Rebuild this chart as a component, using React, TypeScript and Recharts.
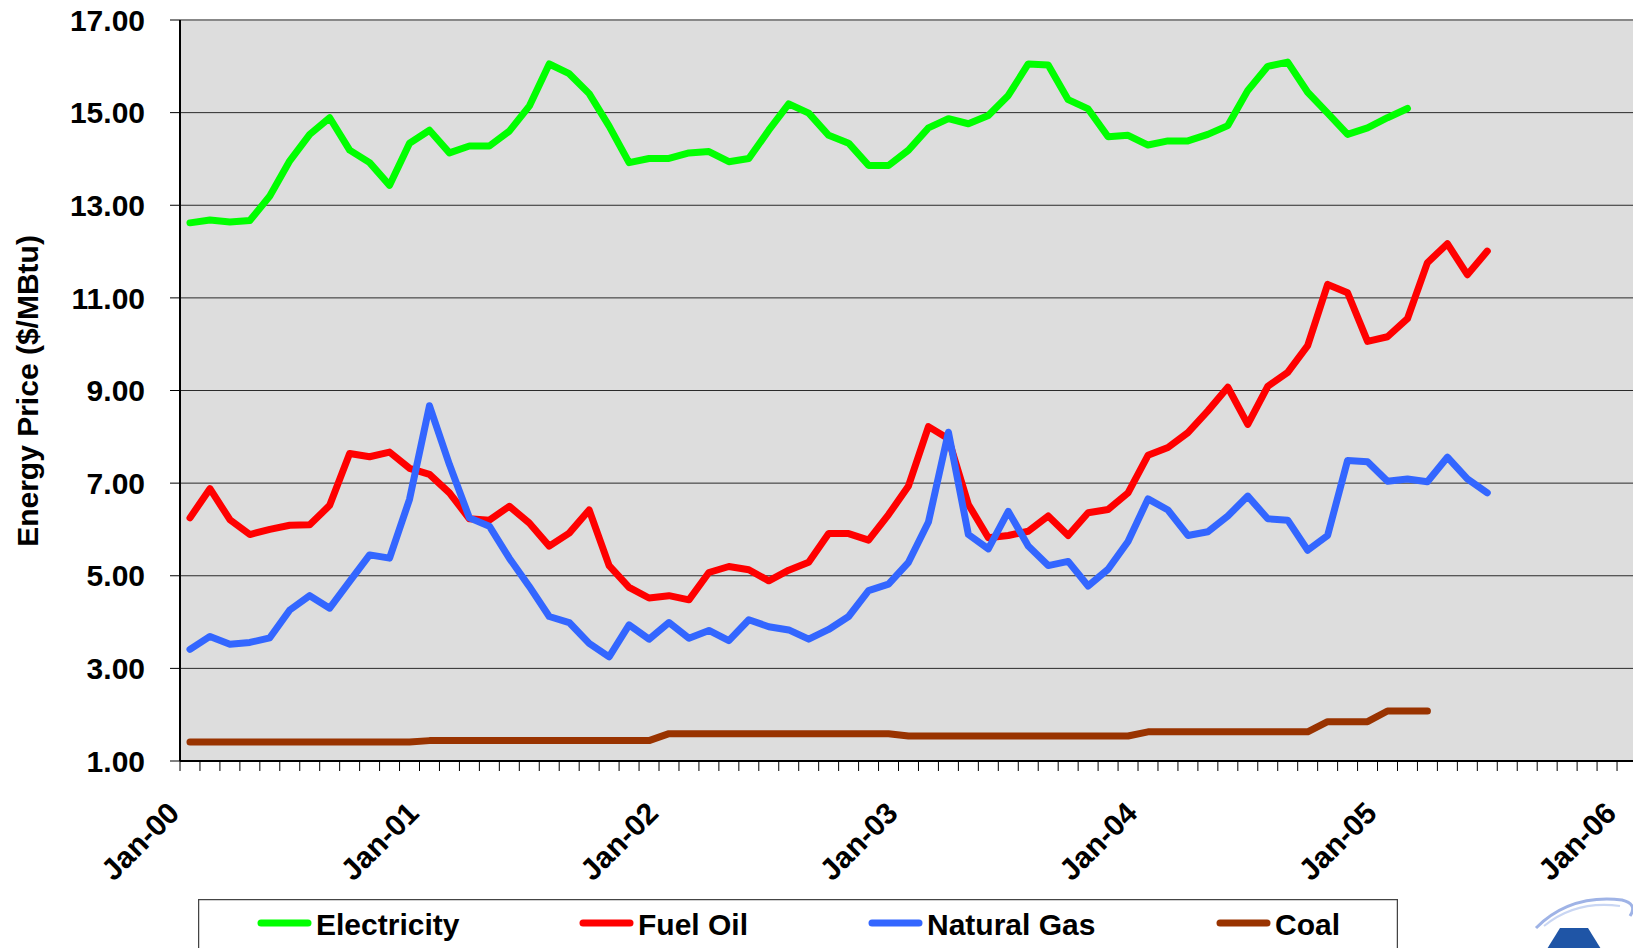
import React from 'react';
import { LineChart, Line, XAxis, YAxis, CartesianGrid, Legend, ReferenceLine } from 'recharts';

const FONT = '"Liberation Sans", Arial, sans-serif';

// monthly categories, Jan-00 .. Jun-05
const monthNames = ['Jan', 'Feb', 'Mar', 'Apr', 'May', 'Jun', 'Jul', 'Aug', 'Sep', 'Oct', 'Nov', 'Dec'];
const years = ['00', '01', '02', '03', '04', '05'];
const months = years.flatMap((y) => monthNames.map((m) => `${m}-${y}`)).slice(0, 66);

const yearLabels = ['Jan-00', 'Jan-01', 'Jan-02', 'Jan-03', 'Jan-04', 'Jan-05', 'Jan-06'];
const yTicks = [1, 3, 5, 7, 9, 11, 13, 15, 17];

const electricity = [
  12.62, 12.68, 12.64, 12.67, 13.2, 13.96, 14.53, 14.89, 14.19, 13.92, 13.43, 14.34,
  14.62, 14.13, 14.28, 14.28, 14.6, 15.14, 16.05, 15.84, 15.41, 14.71, 13.92, 14.01,
  14.01, 14.13, 14.16, 13.94, 14.01, 14.62, 15.19, 14.99, 14.51, 14.34, 13.86, 13.86,
  14.19, 14.67, 14.87, 14.76, 14.94, 15.37, 16.05, 16.03, 15.28, 15.08, 14.48, 14.51,
  14.3, 14.39, 14.39, 14.53, 14.72, 15.48, 16.0, 16.09, 15.44, 14.99, 14.53, 14.67,
  14.89, 15.09,
];

const fuelOil = [
  6.25, 6.88, 6.21, 5.89, 6.0, 6.09, 6.1, 6.52, 7.64, 7.57, 7.67, 7.32,
  7.19, 6.79, 6.23, 6.2, 6.5, 6.14, 5.64, 5.92, 6.42, 5.22, 4.75, 4.52,
  4.57, 4.48, 5.07, 5.2, 5.13, 4.89, 5.12, 5.29, 5.91, 5.91, 5.77, 6.32,
  6.94, 8.22, 7.96, 6.54, 5.82, 5.87, 5.96, 6.29, 5.87, 6.36, 6.43, 6.79,
  7.6, 7.77, 8.09, 8.56, 9.07, 8.27, 9.09, 9.39, 9.97, 11.29, 11.11, 10.06,
  10.16, 10.55, 11.76, 12.17, 11.5, 12.01,
];

const naturalGas = [
  3.41, 3.69, 3.52, 3.56, 3.66, 4.26, 4.57, 4.3, 4.88, 5.45, 5.38, 6.65,
  8.67, 7.4, 6.25, 6.07, 5.38, 4.77, 4.12, 3.99, 3.54, 3.25, 3.94, 3.63,
  3.99, 3.65, 3.82, 3.6, 4.05, 3.9, 3.83, 3.63, 3.84, 4.12, 4.68, 4.82,
  5.29, 6.16, 8.1, 5.89, 5.58, 6.39, 5.64, 5.22, 5.31, 4.78, 5.14, 5.74,
  6.66, 6.42, 5.87, 5.95, 6.29, 6.72, 6.23, 6.2, 5.55, 5.87, 7.49, 7.46,
  7.04, 7.09, 7.03, 7.56, 7.09, 6.79,
];

const coal = [
  1.41, 1.41, 1.41, 1.41, 1.41, 1.41, 1.41, 1.41, 1.41, 1.41, 1.41, 1.41,
  1.44, 1.44, 1.44, 1.44, 1.44, 1.44, 1.44, 1.44, 1.44, 1.44, 1.44, 1.44,
  1.59, 1.59, 1.59, 1.59, 1.59, 1.59, 1.59, 1.59, 1.59, 1.59, 1.59, 1.59,
  1.54, 1.54, 1.54, 1.54, 1.54, 1.54, 1.54, 1.54, 1.54, 1.54, 1.54, 1.54,
  1.63, 1.63, 1.63, 1.63, 1.63, 1.63, 1.63, 1.63, 1.63, 1.85, 1.85, 1.85,
  2.08, 2.08, 2.08,
];

const seriesOrder = ['Electricity', 'Fuel Oil', 'Natural Gas', 'Coal'];

// points sit in the middle of each month on a month-numbered axis
const data = months.map((m, i) => ({
  month: m,
  pos: i + 0.5,
  electricity: electricity[i],
  fuelOil: fuelOil[i],
  naturalGas: naturalGas[i],
  coal: coal[i],
}));

const monthTicks = Array.from({ length: 73 }, (_, i) => i);

const XTick = (props: any) => {
  const { x, y, payload } = props;
  const v = payload.value;
  if (v % 12 !== 0) return <g />;
  const tx = x + 1;
  const ty = y + 42;
  return (
    <text x={tx} y={ty} transform={`rotate(-45 ${tx} ${ty})`} textAnchor="end"
      fontSize={30} fontWeight="bold" fontFamily={FONT} fill="#000">
      {yearLabels[v / 12]}
    </text>
  );
};

const YLabel = () => (
  <text x={38} y={391} transform="rotate(-90 38 391)" textAnchor="middle"
    fontSize={30} fontWeight="bold" fontFamily={FONT} fill="#000">
    Energy Price ($/MBtu)
  </text>
);

const legendX = [60, 382, 671, 1019];

const LegendBox = (props: any) => {
  const items = [...(props.payload || [])].sort(
    (a: any, b: any) => seriesOrder.indexOf(a.value) - seriesOrder.indexOf(b.value)
  );
  return (
    <svg width={1200} height={60} style={{ display: 'block' }}>
      <rect x={0.5} y={0.5} width={1199} height={90} fill="#fff" stroke="#444" strokeWidth={1.5} />
      {items.map((it: any, i: number) => (
        <g key={it.value}>
          <line x1={legendX[i] + 3} x2={legendX[i] + 50} y1={24} y2={24} stroke={it.color}
            strokeWidth={7} strokeLinecap="round" />
          <text x={legendX[i] + 58} y={36} fontSize={30} fontWeight="bold" fontFamily={FONT} fill="#000">
            {it.value}
          </text>
        </g>
      ))}
    </svg>
  );
};

export default function App() {
  return (
    <div style={{ position: 'absolute', left: 0, top: 0, width: 1633, height: 948, background: '#fff', overflow: 'hidden' }}>
      <LineChart width={1633} height={948} data={data}
        margin={{ top: 20, right: 0, left: 80, bottom: 67 }}>
        <CartesianGrid vertical={false} stroke="#2a2a2a" fill="#DDDDDD" />
        <XAxis dataKey="pos" type="number" domain={[0, 72.8]} ticks={monthTicks} interval={0}
          height={120} tick={<XTick />} tickSize={10} tickLine={{ stroke: '#000' }}
          axisLine={{ stroke: '#000', strokeWidth: 2 }} />
        <YAxis domain={[1, 17]} ticks={yTicks} width={100} tickSize={10} tickMargin={25}
          tickFormatter={(v: number) => v.toFixed(2)}
          tick={{ fontSize: 30, fontWeight: 'bold', fontFamily: FONT, fill: '#000' }}
          tickLine={{ stroke: '#000' }} axisLine={{ stroke: '#000', strokeWidth: 2 }}
          label={<YLabel />} />
        <ReferenceLine y={17} stroke="#888" strokeWidth={2} />
        <Line dataKey="electricity" name="Electricity" stroke="#00FF00" strokeWidth={7} dot={false}
          activeDot={false} strokeLinejoin="round" strokeLinecap="round" isAnimationActive={false} />
        <Line dataKey="fuelOil" name="Fuel Oil" stroke="#FF0000" strokeWidth={7} dot={false}
          activeDot={false} strokeLinejoin="round" strokeLinecap="round" isAnimationActive={false} />
        <Line dataKey="naturalGas" name="Natural Gas" stroke="#3366FF" strokeWidth={7} dot={false}
          activeDot={false} strokeLinejoin="round" strokeLinecap="round" isAnimationActive={false} />
        <Line dataKey="coal" name="Coal" stroke="#993300" strokeWidth={7} dot={false}
          activeDot={false} strokeLinejoin="round" strokeLinecap="round" isAnimationActive={false} />
        <Legend layout="horizontal" verticalAlign="middle" align="center" content={<LegendBox />}
          wrapperStyle={{ position: 'absolute', left: 198, top: 899, width: 1200, height: 60 }} />
      </LineChart>
      {/* corner logo, partly off the page as in the source */}
      <svg width={110} height={60} style={{ position: 'absolute', left: 1530, top: 890 }}>
        <path d="M6 38 Q40 4 92 10 Q108 14 100 26" fill="none" stroke="#9fb3e6" strokeWidth={3} />
        <path d="M14 36 Q46 10 90 16" fill="none" stroke="#c9d6f3" strokeWidth={2} />
        <path d="M30 38 L58 38 L84 80 L4 80 Z" fill="#1f55a6" />
      </svg>
    </div>
  );
}
